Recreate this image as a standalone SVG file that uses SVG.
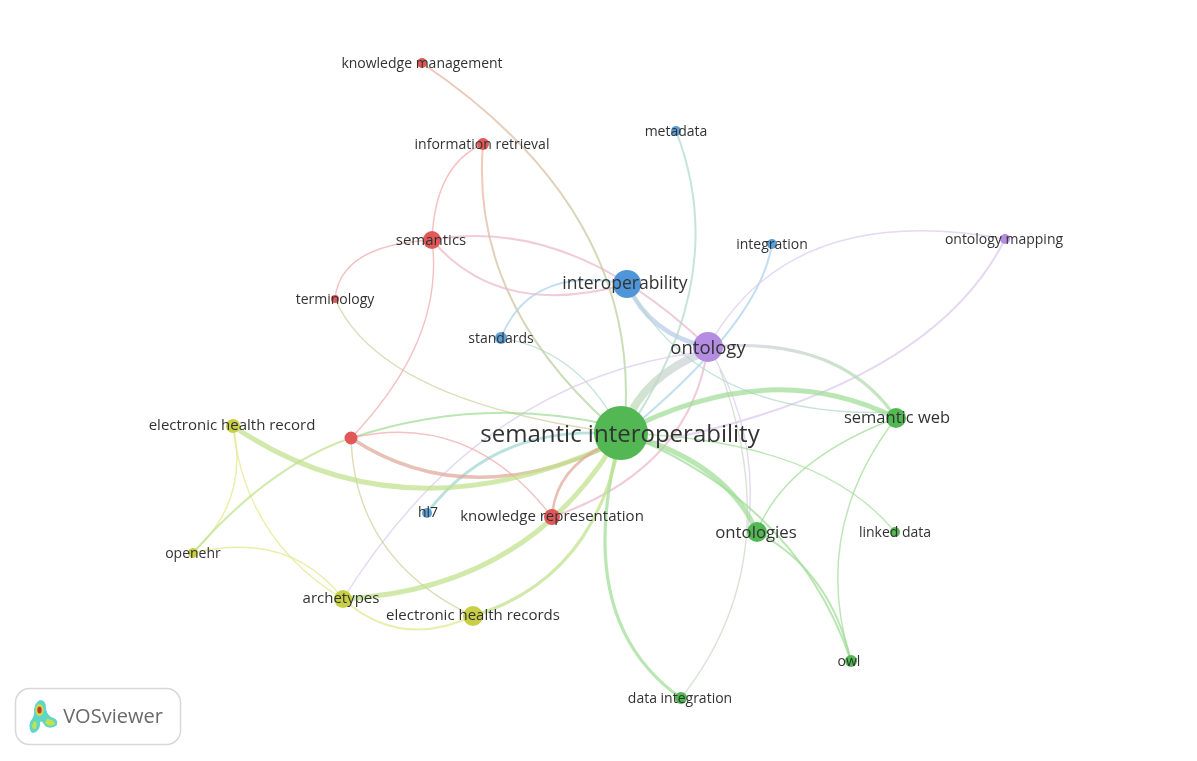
<svg xmlns="http://www.w3.org/2000/svg" width="1197" height="761" viewBox="0 0 1197 761">
<style>
text{font-family:"Open Sans","Liberation Sans",sans-serif;fill:#333;text-anchor:middle;dominant-baseline:central}
.e{fill:none;stroke-linecap:round;stroke-opacity:.72}
.r{stroke:#f0a8a8}.g{stroke:#9fdc96}.b{stroke:#a9d3ea}.p{stroke:#dcc8ee}.y{stroke:#e2e88a}.o{stroke:#cfcf9c}.t{stroke:#b0d8c8}.yg{stroke:#bfe08a}.s{stroke:#c9d8c4}.k{stroke:#eab8c8}
.t1{stroke-width:1.4}.t2{stroke-width:2}.t3{stroke-width:3.200}.t4{stroke-width:5}
.s11{font-size:14px}.s12{font-size:15px}
</style>
<defs>
<filter id="soft" x="-5%" y="-5%" width="110%" height="110%"><feGaussianBlur stdDeviation="0.6"/></filter>
<linearGradient id="km" gradientUnits="userSpaceOnUse" x1="422" y1="63" x2="625" y2="420"><stop offset="0" stop-color="#f0b0a0"/><stop offset="1" stop-color="#a8d89a"/></linearGradient>
<linearGradient id="ir" gradientUnits="userSpaceOnUse" x1="483" y1="144" x2="610" y2="425"><stop offset="0" stop-color="#f0b0a0"/><stop offset="1" stop-color="#a8d89a"/></linearGradient>
<linearGradient id="os" gradientUnits="userSpaceOnUse" x1="708" y1="347" x2="896" y2="418"><stop offset="0" stop-color="#d8cbe8"/><stop offset="1" stop-color="#a8dca0"/></linearGradient>
<linearGradient id="og" gradientUnits="userSpaceOnUse" x1="705" y1="352" x2="625" y2="425"><stop offset="0" stop-color="#d0cfe0"/><stop offset="1" stop-color="#b8dcb0"/></linearGradient>
</defs>
<rect width="1197" height="761" fill="#fff"/>
<g filter="url(#soft)">
<g id="connectors">
<path class="e t2" stroke="url(#km)" d="M422 63Q640 210 625 420"/>
<path class="e r t1" d="M483 144Q435 165 432 240"/>
<path class="e t2" stroke="url(#ir)" d="M483 144Q470 300 610 425"/>
<path class="e r t1" d="M432 240Q340 245 335 299"/>
<path class="e o t1" d="M335 299Q380 400 610 432"/>
<path class="e r t1" d="M432 240Q445 340 351 438"/>
<path class="e k t2" d="M432 240Q570 215 708 347"/>
<path class="e k t2" d="M432 240Q500 320 627 284"/>
<path class="e b t2" d="M501 338Q530 265 627 284"/>
<path class="e" stroke="#b5cbe8" stroke-width="4.500" d="M627 284Q650 335 708 347"/>
<path class="e t t1" d="M501 338Q580 350 621 433"/>
<path class="e t t2" d="M676 131Q730 270 635 420"/>
<path class="e b t2" d="M772 244Q760 320 635 425"/>
<path class="e p t1" d="M1005 239Q790 200 708 347"/>
<path class="e p t2" d="M1005 239Q930 390 640 445"/>
<path class="e" stroke="url(#og)" stroke-width="8" d="M705 352Q645 375 625 425"/>
<path class="e t3" stroke="url(#os)" d="M708 347Q840 335 896 418"/>
<path class="e p t1" d="M708 347Q760 430 748 530"/>
<path class="e k t2" d="M708 347Q690 470 552 517"/>
<path class="e t t1" d="M627 284Q700 420 896 412"/>
<path class="e p t1" d="M700 352Q480 380 343 599"/>
<path class="e s t1" d="M681 698Q790 560 720 370"/>
<path class="e g t4" d="M621 433Q770 355 896 418"/>
<path class="e g t4" d="M621 433Q725 460 757 532"/>
<path class="e g t1" d="M621 433Q820 440 895 532"/>
<path class="e g t2" d="M640 440Q800 510 851 661"/>
<path class="e g t3" d="M621 433Q570 620 681 698"/>
<path class="e g t1" d="M896 418Q785 460 757 532"/>
<path class="e g t1" d="M896 418Q810 530 851 661"/>
<path class="e g t2" d="M757 532Q830 570 851 661"/>
<path class="e" stroke="#9fd4d4" stroke-width="2.800" d="M427 513Q490 430 600 433"/>
<path class="e" stroke="#dfa898" stroke-width="3.500" d="M351 438Q460 510 600 450"/>
<path class="e g t2" d="M351 438Q480 395 610 425"/>
<path class="e r t1" d="M351 438Q470 410 552 517"/>
<path class="e o t1" d="M351 438Q355 560 473 616"/>
<path class="e yg t4" d="M233 426Q400 540 610 445"/>
<path class="e y t1" d="M233 426Q250 500 193 553"/>
<path class="e y t1" d="M233 426Q245 540 343 599"/>
<path class="e yg t2" d="M193 553Q270 465 351 438"/>
<path class="e y t1" d="M193 553Q290 530 343 599"/>
<path class="e yg t4" d="M343 599Q520 590 610 450"/>
<path class="e y t2" d="M343 599Q400 650 473 616"/>
<path class="e yg t3" d="M473 616Q590 580 618 450"/>
<path class="e" stroke="#dfa898" stroke-width="2.600" d="M552 517Q555 470 605 445"/>
</g>
<g id="n-semantic-interoperability"><circle cx="621" cy="433" r="27" fill="#52b852"/><text x="620" y="432" font-size="24">semantic interoperability</text></g>
<g id="n-ontology"><circle cx="708" cy="347" r="15" fill="#b48ce2"/><text x="708" y="346" font-size="18.500">ontology</text></g>
<g id="n-interoperability"><circle cx="627" cy="284" r="14" fill="#4f96d8"/><text x="625" y="282" font-size="17.500">interoperability</text></g>
<g id="n-semantics"><circle cx="432" cy="240" r="9" fill="#e25858"/><text x="431" y="239" class="s12">semantics</text></g>
<g id="n-terminology"><circle cx="335" cy="299" r="4" fill="#e25858"/><text x="335" y="298" class="s11">terminology</text></g>
<g id="n-information-retrieval"><circle cx="483" cy="144" r="6" fill="#e25858"/><text x="482" y="143" class="s11">information retrieval</text></g>
<g id="n-knowledge-management"><circle cx="422" cy="63" r="5" fill="#e25858"/><text x="422" y="62" class="s11">knowledge management</text></g>
<g id="n-metadata"><circle cx="676" cy="131" r="5" fill="#5b9fd8"/><text x="676" y="130" class="s11">metadata</text></g>
<g id="n-integration"><circle cx="772" cy="244" r="5" fill="#5b9fd8"/><text x="772" y="243" class="s11">integration</text></g>
<g id="n-ontology-mapping"><circle cx="1005" cy="239" r="5" fill="#b48ce2"/><text x="1004" y="238" class="s11">ontology mapping</text></g>
<g id="n-standards"><circle cx="501" cy="338" r="6" fill="#5b9fd8"/><text x="501" y="337" class="s11">standards</text></g>
<g id="n-semantic-web"><circle cx="896" cy="418" r="10" fill="#52b852"/><text x="897" y="416" font-size="16.500">semantic web</text></g>
<g id="n-ontologies"><circle cx="757" cy="532" r="10" fill="#52b852"/><text x="756" y="531" font-size="16.800">ontologies</text></g>
<g id="n-linked-data"><circle cx="895" cy="532" r="5" fill="#52b852"/><text x="895" y="531" class="s11">linked data</text></g>
<g id="n-owl"><circle cx="851" cy="661" r="6" fill="#52b852"/><text x="849" y="660" class="s11">owl</text></g>
<g id="n-data-integration"><circle cx="681" cy="698" r="6" fill="#52b852"/><text x="680" y="697" class="s11">data integration</text></g>
<g id="n-knowledge-representation"><circle cx="552" cy="517" r="8" fill="#e25858"/><text x="552" y="515" class="s12">knowledge representation</text></g>
<g id="n-hl7"><circle cx="427" cy="513" r="5" fill="#5b9fd8"/><text x="428" y="511" class="s11">hl7</text></g>
<g id="n-red"><circle cx="351" cy="438" r="6.500" fill="#e25858"/></g>
<g id="n-electronic-health-record"><circle cx="233" cy="426" r="7" fill="#c8cf45"/><text x="232" y="424" class="s12">electronic health record</text></g>
<g id="n-openehr"><circle cx="193" cy="553" r="5" fill="#c8cf45"/><text x="193" y="552" class="s11">openehr</text></g>
<g id="n-archetypes"><circle cx="343" cy="599" r="9" fill="#c8cf45"/><text x="341" y="597" class="s12">archetypes</text></g>
<g id="n-electronic-health-records"><circle cx="473" cy="616" r="10" fill="#c8cf45"/><text x="473" y="614" class="s12">electronic health records</text></g>
<g id="logo">
<rect x="15.500" y="688.500" width="165" height="56" rx="14" fill="#fff" stroke="#d8d8d8" stroke-width="1.500"/>
<path d="M40 700Q46 700 46 708Q46 713 51 717Q59 719 57 725Q51 730 45 726Q42 720 40 722Q41 731 33 733Q28 731 30 722Q35 716 34 710Q35 702 40 700Z" fill="#5fd6c6"/>
<path d="M34 721Q38 722 36 728Q33 731 32 726ZM47 719Q53 719 55 724Q50 728 45 723Z" fill="#c6e04a"/>
<ellipse cx="39.500" cy="710" rx="4" ry="6" fill="#d6d84a"/>
<ellipse cx="39.500" cy="710" rx="2.200" ry="3.500" fill="#c23a20"/>
<text x="113" y="715" font-size="20" style="fill:#6a6a6a">VOSviewer</text>
</g>
</g>
</svg>
